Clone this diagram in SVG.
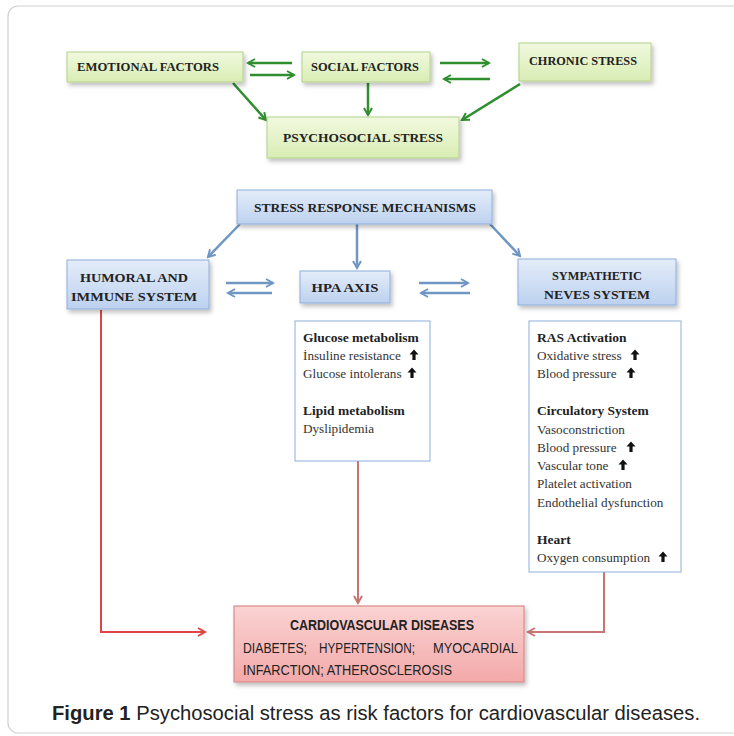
<svg xmlns="http://www.w3.org/2000/svg" width="734" height="736" viewBox="0 0 734 736">
<style>
.gbox{fill:url(#gg);stroke:#b3d18a;stroke-width:1}
.bbox{fill:url(#bg);stroke:#8eaedb;stroke-width:1}
.dbox{fill:#fff;stroke:#8eaedb;stroke-width:1}
.rbox{fill:url(#rg);stroke:#d98b8b;stroke-width:1.2}
.hd{font-family:"Liberation Serif",serif;font-weight:bold;fill:#222;text-anchor:middle}
.bt{font-family:"Liberation Serif",serif;font-size:13.5px;font-weight:bold;fill:#222}
.rt{font-family:"Liberation Serif",serif;font-size:13.2px;fill:#333}
.ct{font-family:"Liberation Sans",sans-serif;fill:#222}
.ga{fill:none;stroke:#2f8f2f;stroke-width:2.5;marker-end:url(#mg)}
.ba{fill:none;stroke:#7096c4;stroke-width:2.5;marker-end:url(#mb)}
.ra{fill:none;stroke:#c87474;stroke-width:2;marker-end:url(#mr)}
.ra2{fill:none;stroke:#e04444;stroke-width:2;marker-end:url(#mr2)}
</style>
<defs>
<linearGradient id="gg" x1="0" y1="0" x2="0" y2="1"><stop offset="0" stop-color="#f1f9df"/><stop offset="1" stop-color="#d9edb4"/></linearGradient>
<linearGradient id="bg" x1="0" y1="0" x2="0" y2="1"><stop offset="0" stop-color="#e4edf9"/><stop offset="1" stop-color="#bcd1ef"/></linearGradient>
<linearGradient id="rg" x1="0" y1="0" x2="0" y2="1"><stop offset="0" stop-color="#fbd3d3"/><stop offset="1" stop-color="#f3a9a9"/></linearGradient>
<filter id="sh" x="-10%" y="-10%" width="125%" height="140%"><feDropShadow dx="2" dy="3" stdDeviation="2" flood-color="#000" flood-opacity="0.25"/></filter>
<marker id="mg" viewBox="0 0 10 10" refX="8" refY="5" markerWidth="4" markerHeight="4" orient="auto" markerUnits="strokeWidth"><polyline points="1,1 8,5 1,9" fill="none" stroke="#2f8f2f" stroke-width="2"/></marker>
<marker id="mb" viewBox="0 0 10 10" refX="8" refY="5" markerWidth="4" markerHeight="4" orient="auto" markerUnits="strokeWidth"><polyline points="1,1 8,5 1,9" fill="none" stroke="#7096c4" stroke-width="2"/></marker>
<marker id="mr" viewBox="0 0 10 10" refX="8" refY="5" markerWidth="5" markerHeight="5" orient="auto" markerUnits="strokeWidth"><polyline points="1,1 8,5 1,9" fill="none" stroke="#c87474" stroke-width="2"/></marker>
<marker id="mr2" viewBox="0 0 10 10" refX="8" refY="5" markerWidth="5" markerHeight="5" orient="auto" markerUnits="strokeWidth"><polyline points="1,1 8,5 1,9" fill="none" stroke="#e04444" stroke-width="2"/></marker>
<path id="up" d="M0,-5.5 L4.5,-0.5 L1.6,-0.5 L1.6,5 L-1.6,5 L-1.6,-0.5 L-4.5,-0.5 Z" fill="#111"/>
</defs>
<rect x="0" y="0" width="734" height="736" fill="#fff"/>
<rect x="8" y="6" width="740" height="727" rx="10" fill="#fff" stroke="#cfcfcf" stroke-width="1.2"/>

<g id="connectors">
<line class="ga" x1="292" y1="63" x2="248" y2="63"/>
<line class="ga" x1="250" y1="75" x2="294" y2="75"/>
<line class="ga" x1="440" y1="63" x2="489" y2="63"/>
<line class="ga" x1="490" y1="79" x2="444" y2="79"/>
<line class="ga" x1="233" y1="83" x2="266" y2="120"/>
<line class="ga" x1="368" y1="83" x2="368" y2="115"/>
<line class="ga" x1="520" y1="84" x2="462" y2="120"/>
<line class="ba" x1="240" y1="224" x2="208" y2="257"/>
<line class="ba" x1="357" y1="224" x2="357" y2="268"/>
<line class="ba" x1="490" y1="224" x2="520" y2="256"/>
<line class="ba" x1="226" y1="283" x2="273" y2="283"/>
<line class="ba" x1="272" y1="293" x2="228" y2="293"/>
<line class="ba" x1="419" y1="283" x2="468" y2="283"/>
<line class="ba" x1="470" y1="293" x2="421" y2="293"/>
<polyline class="ra2" points="101,310 101,632 205,632"/>
<line class="ra" x1="358" y1="461" x2="358" y2="603"/>
<polyline class="ra" points="604,572 604,632 528,632"/>
</g>

<g id="emotional">
<rect class="gbox" x="67" y="52" width="176" height="30" filter="url(#sh)"/>
<text class="hd" x="148" y="71" font-size="12" textLength="142" lengthAdjust="spacingAndGlyphs">EMOTIONAL  FACTORS</text>
</g>
<g id="social">
<rect class="gbox" x="302" y="52" width="128" height="30" filter="url(#sh)"/>
<text class="hd" x="365" y="71" font-size="12" textLength="108" lengthAdjust="spacingAndGlyphs">SOCIAL FACTORS</text>
</g>
<g id="chronic">
<rect class="gbox" x="519" y="43" width="132" height="38" filter="url(#sh)"/>
<text class="hd" x="583" y="65" font-size="11.5" textLength="108" lengthAdjust="spacingAndGlyphs">CHRONIC STRESS</text>
</g>
<g id="psychosocial">
<rect class="gbox" x="267" y="117" width="192" height="41" filter="url(#sh)"/>
<text class="hd" x="363" y="142" font-size="13" textLength="160" lengthAdjust="spacingAndGlyphs">PSYCHOSOCIAL STRESS</text>
</g>

<g id="srm">
<rect class="bbox" x="237" y="190" width="255" height="34" filter="url(#sh)"/>
<text class="hd" x="365" y="212" font-size="12" textLength="222" lengthAdjust="spacingAndGlyphs">STRESS RESPONSE MECHANISMS</text>
</g>
<g id="humoral">
<rect class="bbox" x="67" y="260" width="142" height="49" filter="url(#sh)"/>
<text class="hd" x="134" y="282" font-size="12" textLength="108" lengthAdjust="spacingAndGlyphs">HUMORAL AND</text>
<text class="hd" x="134" y="301" font-size="12" textLength="126" lengthAdjust="spacingAndGlyphs">IMMUNE SYSTEM</text>
</g>
<g id="hpa">
<rect class="bbox" x="300" y="271" width="90" height="32" filter="url(#sh)"/>
<text class="hd" x="345" y="292" font-size="12" textLength="67" lengthAdjust="spacingAndGlyphs">HPA AXIS</text>
</g>
<g id="sympathetic">
<rect class="bbox" x="518" y="259" width="158" height="46" filter="url(#sh)"/>
<text class="hd" x="597" y="280" font-size="12" textLength="90" lengthAdjust="spacingAndGlyphs">SYMPATHETIC</text>
<text class="hd" x="597" y="299" font-size="12" textLength="106" lengthAdjust="spacingAndGlyphs">NEVES SYSTEM</text>
</g>

<g id="hpa-details">
<rect class="dbox" x="295" y="321" width="135" height="140"/>
<text class="bt" x="303" y="342">Glucose metabolism</text>
<text class="rt" x="303" y="360">İnsuline resistance</text>
<use href="#up" x="414" y="355"/>
<text class="rt" x="303" y="378">Glucose intolerans</text>
<use href="#up" x="412" y="373"/>
<text class="bt" x="303" y="415">Lipid metabolism</text>
<text class="rt" x="303" y="433">Dyslipidemia</text>
</g>

<g id="sym-details">
<rect class="dbox" x="529" y="321" width="152" height="251"/>
<text class="bt" x="537" y="342">RAS Activation</text>
<text class="rt" x="537" y="360">Oxidative stress</text>
<use href="#up" x="635" y="355"/>
<text class="rt" x="537" y="378">Blood pressure</text>
<use href="#up" x="631" y="373"/>
<text class="bt" x="537" y="415">Circulatory System</text>
<text class="rt" x="537" y="434">Vasoconstriction</text>
<text class="rt" x="537" y="452">Blood pressure</text>
<use href="#up" x="631" y="447"/>
<text class="rt" x="537" y="470">Vascular tone</text>
<use href="#up" x="623" y="465"/>
<text class="rt" x="537" y="488">Platelet activation</text>
<text class="rt" x="537" y="507">Endothelial dysfunction</text>
<text class="bt" x="537" y="544">Heart</text>
<text class="rt" x="537" y="562">Oxygen consumption</text>
<use href="#up" x="663" y="557"/>
</g>

<g id="cvd">
<rect class="rbox" x="234" y="606" width="290" height="76" filter="url(#sh)"/>
<text class="ct" x="382" y="630" font-size="14" font-weight="bold" text-anchor="middle" textLength="184" lengthAdjust="spacingAndGlyphs">CARDIOVASCULAR DISEASES</text>
<text class="ct" y="653" font-size="14"><tspan x="243" textLength="64" lengthAdjust="spacingAndGlyphs">DIABETES;</tspan><tspan x="319" textLength="96" lengthAdjust="spacingAndGlyphs">HYPERTENSION;</tspan><tspan x="433" textLength="85" lengthAdjust="spacingAndGlyphs">MYOCARDIAL</tspan></text>
<text class="ct" x="243" y="675" font-size="14" textLength="209" lengthAdjust="spacingAndGlyphs">INFARCTION; ATHEROSCLEROSIS</text>
</g>

<text class="ct" x="52" y="720" font-size="19.5" textLength="648" lengthAdjust="spacingAndGlyphs"><tspan font-weight="bold">Figure 1</tspan> Psychosocial stress as risk factors for cardiovascular diseases.</text>
</svg>
